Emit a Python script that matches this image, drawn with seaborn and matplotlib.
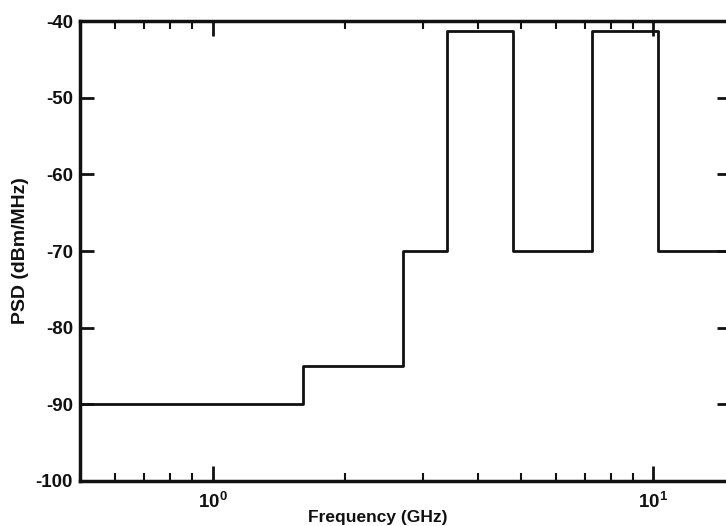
import pandas as pd
import seaborn as sns
import matplotlib.pyplot as plt

# step edges (GHz) and PSD limit levels (dBm/MHz)
freq_ghz = [0.5, 1.6, 2.7, 3.4, 4.8, 7.25, 10.25, 15.0]
psd_dbm = [-90, -85, -70, -41.3, -70, -41.3, -70, -70]
y_ticks = [-100, -90, -80, -70, -60, -50, -40]

sns.set_theme(style="white")
plt.rcParams['font.family'] = ['Liberation Sans', 'DejaVu Sans']
plt.rcParams['font.weight'] = 'bold'
plt.rcParams['axes.unicode_minus'] = False
plt.rcParams['mathtext.fontset'] = 'custom'
plt.rcParams['mathtext.rm'] = 'Liberation Sans:bold'
plt.rcParams['mathtext.it'] = 'Liberation Sans:bold'
plt.rcParams['mathtext.bf'] = 'Liberation Sans:bold'

df = pd.DataFrame({"freq": freq_ghz, "psd": psd_dbm})

fig, ax = plt.subplots(figsize=(7.26, 5.26), dpi=100)
fig.subplots_adjust(left=0.110, right=1.007, top=0.960, bottom=0.0856)

sns.lineplot(data=df, x="freq", y="psd", drawstyle="steps-post",
             color="#111111", linewidth=2.0, ax=ax)

ax.set_xscale("log")
ax.set_xlim(0.5, 15.0)
ax.set_ylim(-100, -40)
ax.set_yticks(y_ticks)

for s in ax.spines.values():
    s.set_linewidth(2.5)
    s.set_color("#111111")

ax.tick_params(axis="both", which="both", direction="in",
               top=True, right=True, bottom=True, left=True,
               color="#111111", labelsize=13.5, labelcolor="#111111")
ax.tick_params(axis="x", which="major", length=11, width=2, pad=8)
ax.tick_params(axis="x", which="minor", length=6, width=1.5)
ax.tick_params(axis="y", which="major", length=10, width=2, pad=5)

ax.set_xlabel("Frequency (GHz)", fontsize=12.5, fontweight="bold", color="#111111")
ax.set_ylabel("PSD (dBm/MHz)", fontsize=14, fontweight="bold", color="#111111")
ax.xaxis.set_label_coords(0.458, -0.063)
ax.yaxis.set_label_coords(-0.078, 0.5)

plt.savefig("out.png", dpi=100)
plt.close()
